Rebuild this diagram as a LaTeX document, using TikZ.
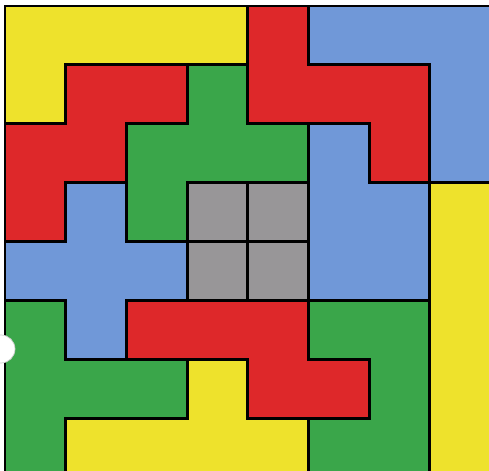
\documentclass[tikz,border=0pt]{standalone}
\usepackage{xcolor}
\usepackage{tikz}
\definecolor{pyellow}{RGB}{238,226,44}
\definecolor{pred}{RGB}{222,40,42}
\definecolor{pgreen}{RGB}{58,166,74}
\definecolor{pblue}{RGB}{112,152,216}
\definecolor{pgrey}{RGB}{152,150,152}

\begin{document}
\begin{tikzpicture}[piece/.style={draw=black, line width=1.6pt, line join=miter}]
\useasboundingbox (0,0) rectangle (9.78,-9.42);
\clip (0,0) rectangle (9.78,-9.42);
\fill[white] (0,0) rectangle (9.78,-9.42);
\begin{scope}[shift={(0.10,-0.12)}, x=1.214cm, y=-1.178cm]
% ---- top row of pieces
\filldraw[piece, fill=pyellow] (0,0) -- (4,0) -- (4,1) -- (1,1) -- (1,2) -- (0,2) -- cycle;
\filldraw[piece, fill=pred] (4,0) -- (5,0) -- (5,1) -- (7,1) -- (7,3) -- (6,3) -- (6,2) -- (4,2) -- cycle;
\filldraw[piece, fill=pblue] (5,0) -- (8,0) -- (8,3) -- (7,3) -- (7,1) -- (5,1) -- cycle;
\filldraw[piece, fill=pred] (1,1) -- (3,1) -- (3,2) -- (2,2) -- (2,3) -- (1,3) -- (1,4) -- (0,4) -- (0,2) -- (1,2) -- cycle;
\filldraw[piece, fill=pgreen] (3,1) -- (4,1) -- (4,2) -- (5,2) -- (5,3) -- (3,3) -- (3,4) -- (2,4) -- (2,2) -- (3,2) -- cycle;
% ---- middle
\filldraw[piece, fill=pblue] (5,2) -- (6,2) -- (6,3) -- (7,3) -- (7,5) -- (5,5) -- cycle;
\filldraw[piece, fill=pblue] (1,3) -- (2,3) -- (2,4) -- (3,4) -- (3,5) -- (2,5) -- (2,6) -- (1,6) -- (1,5) -- (0,5) -- (0,4) -- (1,4) -- cycle;
\foreach \c in {3,4} {
  \foreach \r in {3,4} {\filldraw[piece, fill=pgrey] (\c,\r) rectangle (\c+1,\r+1);}
}
\filldraw[piece, fill=pyellow] (7,3) -- (8,3) -- (8,8) -- (7,8) -- cycle;
% ---- bottom rows
\filldraw[piece, fill=pred] (2,5) -- (5,5) -- (5,6) -- (6,6) -- (6,7) -- (4,7) -- (4,6) -- (2,6) -- cycle;
\filldraw[piece, fill=pgreen] (5,5) -- (7,5) -- (7,8) -- (5,8) -- (5,7) -- (6,7) -- (6,6) -- (5,6) -- cycle;
\filldraw[piece, fill=pgreen] (0,5) -- (1,5) -- (1,6) -- (3,6) -- (3,7) -- (1,7) -- (1,8) -- (0,8) -- cycle;
\filldraw[piece, fill=pyellow] (3,6) -- (4,6) -- (4,7) -- (5,7) -- (5,8) -- (1,8) -- (1,7) -- (3,7) -- cycle;
\end{scope}
% ---- punch hole
\filldraw[white, draw=gray!40] (0.02,-6.98) circle (0.28);
\end{tikzpicture}
\end{document}
